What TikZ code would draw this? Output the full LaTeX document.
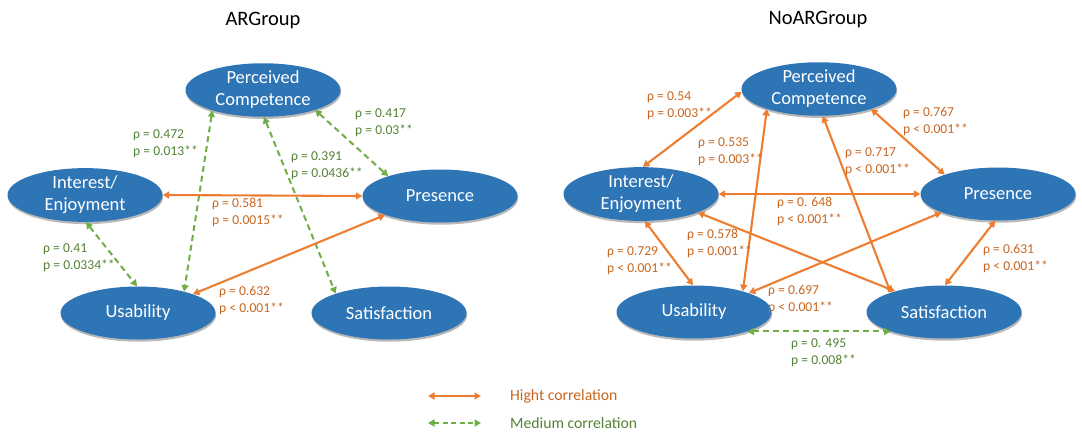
\documentclass[tikz,border=0pt]{standalone}
\usepackage{fontspec}
\setmainfont{Carlito}
\usetikzlibrary{shapes.geometric,arrows.meta,shadows}

\definecolor{nodeblue}{HTML}{2E75B6}
\definecolor{hiline}{HTML}{ED7D31}
\definecolor{hitext}{HTML}{C9651F}
\definecolor{medline}{HTML}{70AD47}
\definecolor{medtext}{HTML}{548235}

\tikzset{
  var/.style={ellipse, fill=nodeblue, text=white, minimum width=155pt,
    minimum height=53pt, inner sep=0pt, align=center,
    font=\fontsize{18.5}{22}\selectfont,
    drop shadow={shadow xshift=0.6pt, shadow yshift=-2.2pt, opacity=0.28, fill=black}},
  tipboth/.style={{Triangle[length=6.5pt,width=7pt]}-{Triangle[length=6.5pt,width=7pt]}},
  high/.style={draw=hiline, line width=2.1pt, tipboth},
  medium/.style={draw=medline, line width=2pt, dash pattern=on 6pt off 4pt, tipboth},
  hilab/.style={anchor=west, align=left, inner sep=0pt, text=hitext,
    font=\fontsize{13.6}{17}\selectfont},
  medlab/.style={hilab, text=medtext},
  grouptitle/.style={font=\fontsize{20.5}{24}\selectfont, inner sep=0pt},
  legtext/.style={anchor=west, inner sep=0pt, font=\fontsize{15.7}{18}\selectfont}
}

\begin{document}
\begin{tikzpicture}[x=1pt,y=-1pt]
\useasboundingbox (0,0) rectangle (1082,434);

% ---------------- AR group ----------------
\node[grouptitle] (tAR) at (263,20) {ARGroup};

\node[var] (pc)  at (263,90)  {Perceived\\Competence};
\node[var] (ie)  at (85,195)  {Interest/\\Enjoyment};
\node[var] (pr)  at (440,196) {Presence};
\node[var] (us)  at (138,313) {Usability};
\node[var] (sa)  at (389,313) {Satisfaction};

\draw[medium] (pc.202) -- (us.25);
\draw[medium] (pc.272) -- (sa.160);
\draw[medium] (pc.339) -- (pr.159);
\draw[medium] (ie.272) -- (us.92);
\draw[high]   (ie.0)   -- (pr.180);
\draw[high]   (us.19)  -- (pr.199);

\node[medlab] (l1) at (133,144) {ρ = 0.472\\p = 0.013**};
\node[medlab] (l2) at (355,123) {ρ = 0.417\\p = 0.03**};
\node[medlab] (l3) at (291,166) {ρ = 0.391\\p = 0.0436**};
\node[hilab]  (l4) at (212,212) {ρ = 0.581\\p = 0.0015**};
\node[medlab] (l5) at (43,258)  {ρ = 0.41\\p = 0.0334**};
\node[hilab]  (l6) at (219,300) {ρ = 0.632\\p < 0.001**};

% ---------------- NoAR group ----------------
\node[grouptitle] (tNo) at (818,19) {NoARGroup};

\node[var] (pc2) at (819,89)  {Perceived\\Competence};
\node[var] (ie2) at (641,194) {Interest/\\Enjoyment};
\node[var] (pr2) at (998,194) {Presence};
\node[var] (us2) at (694,312) {Usability};
\node[var] (sa2) at (944,312) {Satisfaction};

\draw[high] (pc2.182) -- (ie2.86);
\draw[high] (pc2.201) -- (us2.23);
\draw[high] (pc2.278) -- (sa2.160);
\draw[high] (pc2.339) -- (pr2.160);
\draw[high] (ie2.0)   -- (pr2.180);
\draw[high] (ie2.342) -- (sa2.157);
\draw[high] (ie2.278) -- (us2.92);
\draw[high] (us2.19)  -- (pr2.198);
\draw[high] (pr2.264) -- (sa2.88);
\draw[medium] (us2.340) -- (sa2.200);

\node[hilab]  (r1)  at (647,106) {ρ = 0.54\\p = 0.003**};
\node[hilab]  (r2)  at (698,152) {ρ = 0.535\\p = 0.003**};
\node[hilab]  (r3)  at (903,122) {ρ = 0.767\\p < 0.001**};
\node[hilab]  (r4)  at (845,162) {ρ = 0.717\\p < 0.001**};
\node[hilab]  (r5)  at (777,211) {ρ = 0. 648\\p < 0.001**};
\node[hilab]  (r6)  at (687,243) {ρ = 0.578\\p = 0.001**};
\node[hilab]  (r7)  at (607,261) {ρ = 0.729\\p < 0.001**};
\node[hilab]  (r8)  at (983,258) {ρ = 0.631\\p < 0.001**};
\node[hilab]  (r9)  at (768,299) {ρ = 0.697\\p < 0.001**};
\node[medlab] (r10) at (791,353) {ρ = 0. 495\\p = 0.008**};

% ---------------- legend ----------------
\coordinate (hA) at (428,396);
\coordinate (hB) at (481,396);
\coordinate (mA) at (428,423);
\coordinate (mB) at (481,423);
\draw[high, line width=1.9pt] (hA) -- (hB);
\draw[medium, line width=1.7pt, dash pattern=on 5pt off 3.5pt] (mA) -- (mB);
\node[legtext, text=hitext]  (hT) at (510,396) {Hight correlation};
\node[legtext, text=medtext] (mT) at (510,423) {Medium correlation};
\end{tikzpicture}
\end{document}
